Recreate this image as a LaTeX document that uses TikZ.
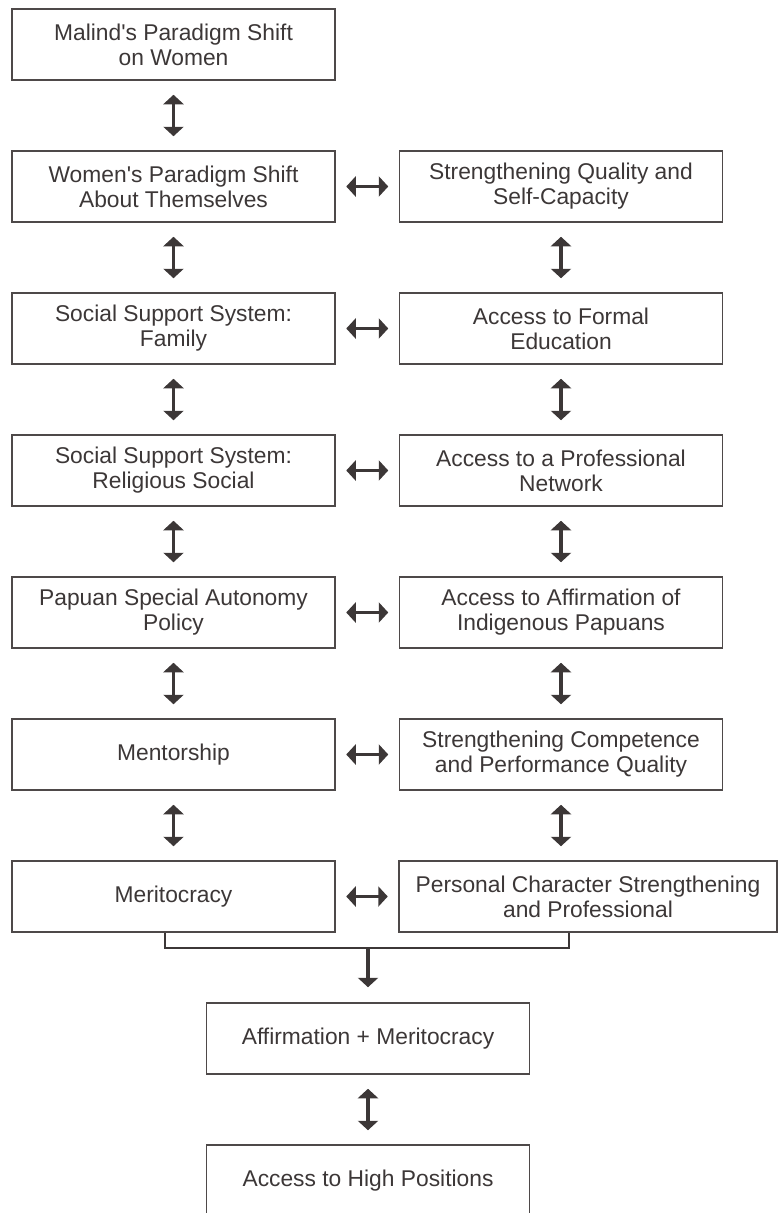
\documentclass[tikz,border=0pt]{standalone}
\usepackage{fontspec}
\setmainfont{Liberation Sans}
\usetikzlibrary{arrows.meta}
\definecolor{inkgray}{RGB}{60,55,55}
\definecolor{edgegray}{RGB}{78,73,73}
\tikzset{
  stagebox/.style={rectangle, draw=edgegray, line width=1.5pt, minimum width=323pt, minimum height=71pt, align=center, inner sep=0pt, text=inkgray},
  biarr/.style={{Triangle[length=9.5pt,width=20pt]}-{Triangle[length=9.5pt,width=20pt]}, line width=3.6pt, draw=inkgray},
  onearr/.style={-{Triangle[length=9.5pt,width=20pt]}, line width=3.6pt, draw=inkgray},
  bracket/.style={line width=2.4pt, draw=inkgray},
}

\begin{document}
\begin{tikzpicture}[x=1pt, y=-1pt, font=\fontsize{22.8pt}{25pt}\selectfont]
\useasboundingbox (0,0) rectangle (778,1213);
% left column
\node[stagebox] (malind) at (173.5,44.5) {Malind\textquotesingle s Paradigm Shift\\on Women};
\node[stagebox] (women) at (173.5,186.5) {Women\textquotesingle s Paradigm Shift\\About Themselves};
\node[stagebox] (family) at (173.5,328.5) {Social Support System:\\Family};
\node[stagebox] (religious) at (173.5,470.5) {Social Support System:\\Religious Social};
\node[stagebox] (autonomy) at (173.5,612.5) {Papuan Special Autonomy\\Policy};
\node[stagebox] (mentor) at (173.5,754.5) {Mentorship};
\node[stagebox] (merit) at (173.5,896.5) {Meritocracy};
% right column
\node[stagebox] (quality) at (561,186.5) {Strengthening Quality and\\Self-Capacity};
\node[stagebox] (education) at (561,328.5) {Access to Formal\\Education};
\node[stagebox] (network) at (561,470.5) {Access to a Professional\\Network};
\node[stagebox] (indigenous) at (561,612.5) {Access to Affirmation of\\Indigenous Papuans};
\node[stagebox] (competence) at (561,754.5) {Strengthening Competence\\and Performance Quality};
\node[stagebox, minimum width=378pt] (personal) at (588,896.5) {Personal Character Strengthening\\and Professional};
% bottom
\node[stagebox] (affmerit) at (368,1038.5) {Affirmation + Meritocracy};
\node[stagebox] (high) at (368,1180.5) {Access to High Positions};

% vertical links
\foreach \a/\b in {malind/women, women/family, family/religious, religious/autonomy, autonomy/mentor, mentor/merit,
  quality/education, education/network, network/indigenous, indigenous/competence, affmerit/high}
  \draw[biarr, shorten <=14pt, shorten >=14pt] (\a) -- (\b);
\draw[biarr, shorten <=14pt, shorten >=14pt] (competence.south) -- (competence.south |- personal.north);
% horizontal links
\foreach \a/\b in {women/quality, family/education, religious/network, autonomy/indigenous, mentor/competence}
  \draw[biarr, shorten <=10.5pt, shorten >=10.5pt] (\a) -- (\b);
\draw[biarr, shorten <=10.5pt, shorten >=10.5pt] (merit.east) -- (personal.west);

% joining bracket
\coordinate (joint) at (368,948);
\draw[bracket] ([xshift=-8.5pt]merit.south) |- (joint) -| ([xshift=-19pt]personal.south);
\draw[onearr, shorten >=15pt] (joint) -- (affmerit.north);
\end{tikzpicture}
\end{document}
